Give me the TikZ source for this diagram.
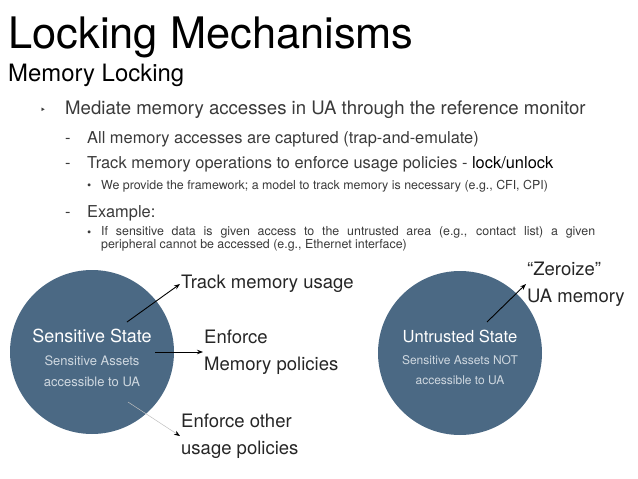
\documentclass[tikz,border=0pt]{standalone}
\usepackage{fontspec}
\setmainfont{TeX Gyre Heros}
\newfontfamily\symfont{DejaVu Sans}
\usetikzlibrary{calc,positioning,arrows,arrows.meta,shapes}
\definecolor{stateblue}{HTML}{4B6984}
\definecolor{bodygray}{HTML}{3A3A3A}
\definecolor{subgray}{HTML}{CFD8E0}
\begin{document}
\begin{tikzpicture}[x=1pt,y=-1pt,
  txt/.style={anchor=base west,inner sep=0pt,text=bodygray},
  state/.style={circle,fill=stateblue,minimum size=164pt,inner sep=0pt},
  sttxt/.style={text=white,inner sep=0pt,font=\fontsize{18}{22}\selectfont},
  subtxt/.style={text=subgray,inner sep=0pt,align=center,font=\fontsize{13}{21}\selectfont},
  lbl/.style={anchor=west,align=left,inner sep=1pt,text=black!85,font=\fontsize{18.5}{27}\selectfont},
  arr/.style={-{Stealth[length=6pt,width=4.5pt]},line width=.9pt}]
  \useasboundingbox (0,0) rectangle (638,479);
  % heading
  \node[txt,text=black,font=\fontsize{43.4}{50}\selectfont] (title) at (8,48) {Locking Mechanisms};
  \node[txt,text=black,font=\fontsize{23.9}{28}\selectfont] (sub) at (8,81) {Memory Locking};
  % bullet list
  \node[txt,font=\symfont\fontsize{10}{10}\selectfont] (b1) at (40,113) {‣};
  \node[txt,font=\fontsize{18.6}{22}\selectfont] (l1) at (65,114) {Mediate memory accesses in UA through the reference monitor};
  \node[txt,font=\fontsize{16.4}{20}\selectfont] (d1) at (65,143) {-};
  \node[txt,font=\fontsize{16.4}{20}\selectfont] (l2) at (87,143) {All memory accesses are captured (trap-and-emulate)};
  \node[txt,font=\fontsize{16.4}{20}\selectfont] (d2) at (65,168) {-};
  \node[txt,font=\fontsize{16.4}{20}\selectfont] (l3) at (87,168) {Track memory operations to enforce usage policies - \textcolor{black}{lock/unlock}};
  \node[txt,font=\fontsize{12}{14}\selectfont] (s1) at (87,189) {•};
  \node[txt,font=\fontsize{12.4}{14}\selectfont] (l4) at (101,189) {We provide the framework; a model to track memory is necessary (e.g., CFI, CPI)};
  \node[txt,font=\fontsize{16.4}{20}\selectfont] (d3) at (65,217) {-};
  \node[txt,font=\fontsize{16.4}{20}\selectfont] (l5) at (87,217) {Example:};
  \node[txt,font=\fontsize{12}{14}\selectfont] (s2) at (87,236) {•};
  \node[txt,anchor=north west,text width=494pt,align=justify,font=\fontsize{12.4}{13}\selectfont] (l6) at (101,226) {If sensitive data is given access to the untrusted area (e.g., contact list) a given\linebreak peripheral cannot be accessed (e.g., Ethernet interface)};
  % states
  \node[state] (sens) at (92,352) {};
  \node[sttxt] (sens-t) at (92,336) {Sensitive State};
  \node[subtxt] (sens-s) at (92,371) {Sensitive Assets\\accessible to UA};
  \node[state] (untr) at (460,353) {};
  \node[sttxt,font=\fontsize{16.6}{20}\selectfont] (untr-t) at (460,336) {Untrusted State};
  \node[subtxt,font=\fontsize{12}{20}\selectfont] (untr-s) at (460,370) {Sensitive Assets NOT\\accessible to UA};
  % policy labels
  \node[lbl] (trk) at (180,284) {Track memory usage};
  \node[lbl] (enf) at (203,352) {Enforce\\Memory policies};
  \node[lbl] (oth) at (180,436) {Enforce other\\usage policies};
  \node[lbl] (zer) at (526,284) {``Zeroize''\\UA memory};
  \coordinate (sens-a) at (127,322);
  \coordinate (sens-b) at (155,352);
  \coordinate (sens-c) at (128,402);
  \coordinate (untr-a) at (487,322);
  \draw[arr] (sens-a) -- (trk.west);
  \draw[arr] (sens-b) -- (enf.west);
  \draw[-{Stealth[length=6pt,width=4.5pt,black]},line width=.5pt,draw=black!25] (sens-c) -- (oth.west);
  \draw[arr] (untr-a) -- (zer.west);
\end{tikzpicture}
\end{document}
